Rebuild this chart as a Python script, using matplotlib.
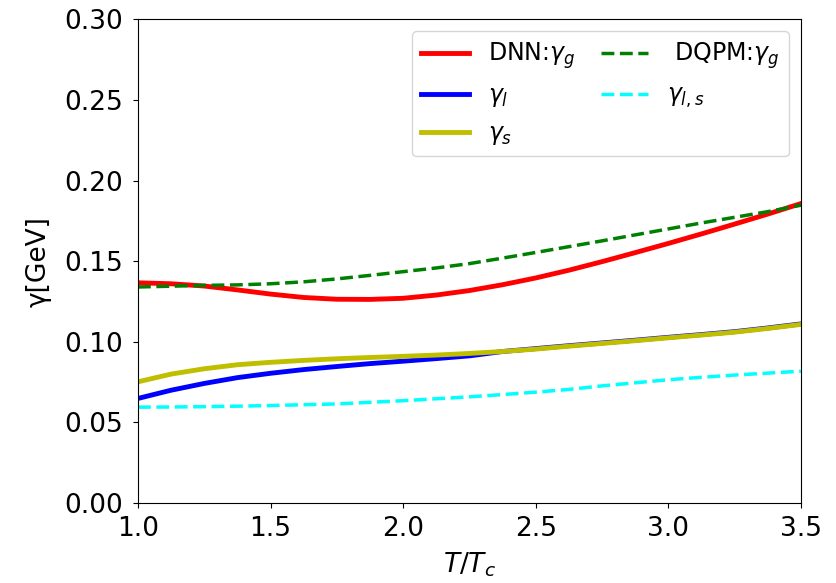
import matplotlib
matplotlib.use("Agg")
import matplotlib.pyplot as plt

# Temperature grid in units of T_c
t_ratio = [1.0, 1.125, 1.25, 1.375, 1.5, 1.625, 1.75, 1.875, 2.0, 2.125, 2.25,
           2.375, 2.5, 2.625, 2.75, 2.875, 3.0, 3.125, 3.25, 3.375, 3.5]

# Damping rates [GeV]
gamma_g_dnn = [0.1366, 0.1360, 0.1346, 0.1322, 0.1296, 0.1275, 0.1264, 0.1263, 0.1270,
               0.1290, 0.1318, 0.1354, 0.1396, 0.1444, 0.1497, 0.1553, 0.1610, 0.1669,
               0.1730, 0.1792, 0.1857]
gamma_l_dnn = [0.0649, 0.0700, 0.0742, 0.0778, 0.0805, 0.0828, 0.0847, 0.0865, 0.0880,
               0.0896, 0.0913, 0.0940, 0.0958, 0.0976, 0.0993, 0.1010, 0.1028, 0.1045,
               0.1063, 0.1086, 0.1111]
gamma_s_dnn = [0.0752, 0.0800, 0.0833, 0.0858, 0.0873, 0.0885, 0.0895, 0.0903, 0.0910,
               0.0918, 0.0928, 0.0940, 0.0955, 0.0973, 0.0990, 0.1007, 0.1025, 0.1042,
               0.1060, 0.1083, 0.1108]
gamma_g_dqpm = [0.1340, 0.1345, 0.1350, 0.1353, 0.1360, 0.1372, 0.1390, 0.1412, 0.1435,
                0.1458, 0.1485, 0.1519, 0.1554, 0.1590, 0.1626, 0.1663, 0.1700, 0.1737,
                0.1772, 0.1807, 0.1847]
gamma_ls_dqpm = [0.0595, 0.0596, 0.0598, 0.0601, 0.0605, 0.0610, 0.0615, 0.0625, 0.0635,
                 0.0647, 0.0659, 0.0673, 0.0688, 0.0705, 0.0727, 0.0746, 0.0765, 0.0780,
                 0.0794, 0.0806, 0.0818]

x_ticks = [1.0, 1.5, 2.0, 2.5, 3.0, 3.5]
y_ticks = [0.00, 0.05, 0.10, 0.15, 0.20, 0.25, 0.30]

fig = plt.figure(figsize=(8.36, 5.83), dpi=100)
ax = fig.add_axes([0.165, 0.137, 0.793, 0.830])

ax.plot(t_ratio, gamma_g_dnn, color="red", lw=3.5, label=r"DNN:$\gamma_g$")
ax.plot(t_ratio, gamma_l_dnn, color="blue", lw=3.5, label=r"$\gamma_l$")
ax.plot(t_ratio, gamma_s_dnn, color="y", lw=3.5, label=r"$\gamma_s$")
ax.plot(t_ratio, gamma_g_dqpm, color="green", lw=2.5, ls="--", label=r" DQPM:$\gamma_g$")
ax.plot(t_ratio, gamma_ls_dqpm, color="cyan", lw=2.5, ls="--", label=r"$\gamma_{l,s}$")

ax.set_xlim(1.0, 3.5)
ax.set_ylim(0.0, 0.30)
ax.set_xticks(x_ticks)
ax.set_yticks(y_ticks)
ax.set_xticklabels([f"{v:.1f}" for v in x_ticks])
ax.set_yticklabels([f"{v:.2f}" for v in y_ticks])
ax.tick_params(labelsize=19)
ax.tick_params(axis="x", pad=6)
ax.tick_params(axis="y", pad=7.5)
ax.set_xlabel(r"$T/T_c$", fontsize=19, labelpad=6)
ax.set_ylabel("γ[GeV]", fontsize=19, labelpad=9)

ax.legend(ncol=2, loc="upper right", fontsize=17, columnspacing=1.1)

fig.savefig("out.png", dpi=100)
